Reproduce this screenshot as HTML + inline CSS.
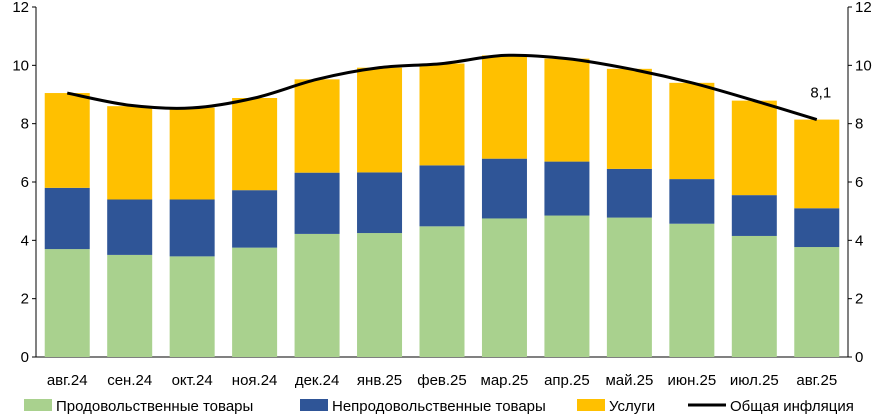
<!DOCTYPE html>
<html><head><meta charset="utf-8"><style>
body{margin:0;background:#fff;font-family:"Liberation Sans","DejaVu Sans",sans-serif}
svg text{font-family:"Liberation Sans","DejaVu Sans",sans-serif;font-size:15px;fill:#000}
</style></head><body>
<svg id="c" width="884" height="415"></svg>
<script>
const categories=["авг.24","сен.24","окт.24","ноя.24","дек.24","янв.25","фев.25","мар.25","апр.25","май.25","июн.25","июл.25","авг.25"];
const food=[3.7,3.5,3.45,3.75,4.22,4.25,4.48,4.75,4.85,4.78,4.57,4.15,3.77];
const nonfood=[2.1,1.9,1.95,1.97,2.1,2.08,2.09,2.05,1.85,1.67,1.53,1.4,1.33];
const services=[3.25,3.2,3.15,3.16,3.2,3.59,3.49,3.54,3.53,3.43,3.3,3.24,3.04];
const total=[9.05,8.63,8.54,8.88,9.52,9.92,10.06,10.34,10.23,9.88,9.4,8.79,8.14];
const yTicks=[0,2,4,6,8,10,12];
const lastLabel="8,1";
const L=36,R=848,T=7,B=357,ymax=12;
const NS="http://www.w3.org/2000/svg";
const svg=document.getElementById('c');
const step=(R-L)/categories.length, bw=45;
function x(i){return L+step*(i+0.5);}
function y(v){return B-(B-T)*v/ymax;}
function mk(t,a,p){const e=document.createElementNS(NS,t);for(const k in a)e.setAttribute(k,a[k]);(p||svg).appendChild(e);return e;}
// axes
let e=mk('line',{x1:L,y1:T,x2:L,y2:B,stroke:'#000','stroke-width':1});


e=mk('line',{x1:R,y1:T,x2:R,y2:B,stroke:'#000','stroke-width':1});


e=mk('line',{x1:L,y1:B,x2:R,y2:B,stroke:'#000','stroke-width':1});


yTicks.forEach(v=>{
  let t=mk('text',{x:L-7,y:y(v)+5,'text-anchor':'end'});t.textContent=v;
  
  
  t=mk('text',{x:R+7,y:y(v)+5,'text-anchor':'start'});t.textContent=v;
  
  
  mk('line',{x1:L-4,x2:L,y1:y(v),y2:y(v),stroke:'#000'});
  mk('line',{x1:R,x2:R+4,y1:y(v),y2:y(v),stroke:'#000'});
});
categories.forEach((c,i)=>{
  const segs=[[food[i],'#a9d18e','bar-food'],[nonfood[i],'#2f5597','bar-nonfood'],[services[i],'#ffc000','bar-services']];
  let base=0;
  segs.forEach(s=>{
    const r=mk('rect',{x:x(i)-bw/2,y:y(base+s[0]),width:bw,height:y(base)-y(base+s[0]),fill:s[1]});
    
    
    base+=s[0];
  });
  const t=mk('text',{x:x(i),y:385,'text-anchor':'middle'});t.textContent=c;
  
  
});
// smooth line
const pts=total.map((v,i)=>[x(i),y(v)]);
let d='M'+pts[0][0]+','+pts[0][1];
for(let i=0;i<pts.length-1;i++){
  const p0=pts[Math.max(0,i-1)],p1=pts[i],p2=pts[i+1],p3=pts[Math.min(pts.length-1,i+2)];
  const c1=[p1[0]+(p2[0]-p0[0])/6,p1[1]+(p2[1]-p0[1])/6],c2=[p2[0]-(p3[0]-p1[0])/6,p2[1]-(p3[1]-p1[1])/6];
  d+=` C${c1[0]},${c1[1]} ${c2[0]},${c2[1]} ${p2[0]},${p2[1]}`;
}
e=mk('path',{d:d,fill:'none',stroke:'#000','stroke-width':3});


const n=total.length-1;
e=mk('text',{x:x(n)+4,y:y(total[n])-22,'text-anchor':'middle'});e.textContent=lastLabel;


// legend
const leg=[['rect','#a9d18e','Продовольственные товары',24,'legend-food'],['rect','#2f5597','Непродовольственные товары',300,'legend-nonfood'],['rect','#ffc000','Услуги',577,'legend-services'],['line','#000','Общая инфляция',690,'legend-total']];
leg.forEach(l=>{
  const g=mk('g',{});
  
  
  if(l[0]=='rect')mk('rect',{x:l[3],y:399,width:28,height:12,fill:l[1]},g);
  else mk('line',{x1:l[3]-2,x2:l[3]+36,y1:405,y2:405,stroke:'#000','stroke-width':3},g);
  const t=mk('text',{x:l[3]+(l[0]=='rect'?32:40),y:411},g);t.textContent=l[2];
});
</script></body></html>
